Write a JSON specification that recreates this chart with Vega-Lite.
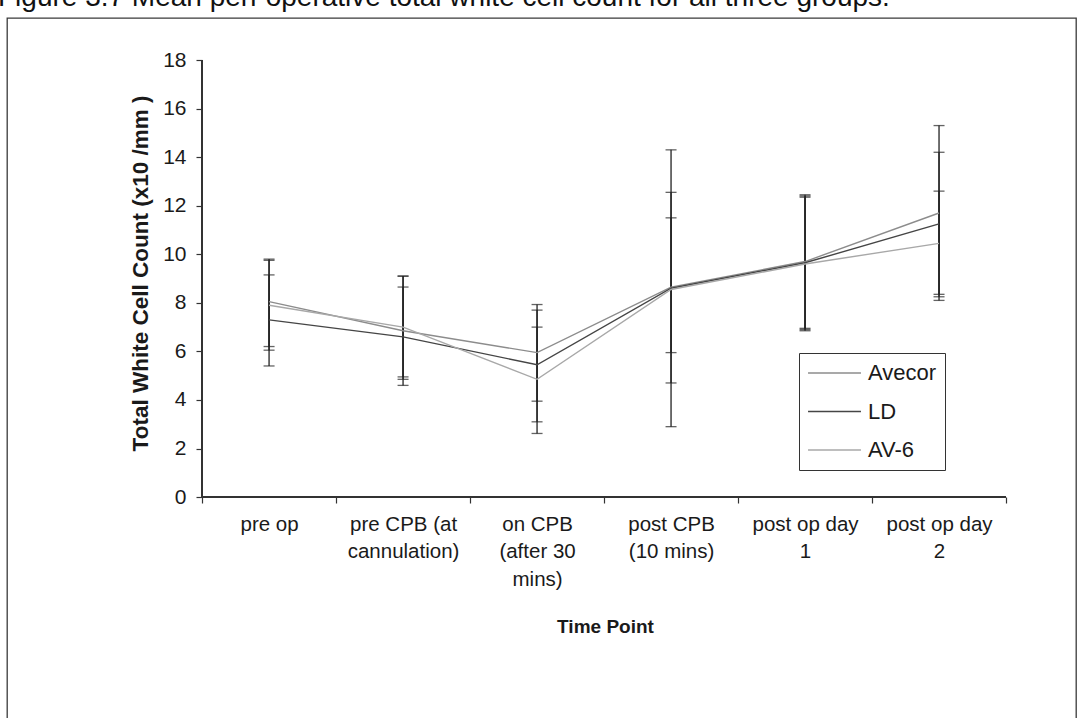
{
  "$schema": "https://vega.github.io/schema/vega-lite/v6.json",
  "autosize": "none",
  "width": 1069,
  "height": 702,
  "padding": {"left": 7, "top": 18, "right": 8, "bottom": 0},
  "background": "white",
  "title": {
    "text": "Figure 3.7  Mean peri-operative total white cell count for all three groups.",
    "anchor": "start",
    "frame": "group",
    "font": "Liberation Sans",
    "fontSize": 28,
    "fontWeight": "normal",
    "color": "#111111",
    "offset": 12,
    "dx": -9,
    "dy": 6
  },
  "config": {
    "view": {"stroke": "#3a3a3a", "strokeWidth": 1.3},
    "font": "Liberation Sans"
  },
  "data": {
    "values": [
      {"time": "pre op", "group": "Avecor", "mean": 8.05, "lo": 6.2, "hi": 9.8},
      {"time": "pre op", "group": "LD", "mean": 7.3, "lo": 5.4, "hi": 9.15},
      {"time": "pre op", "group": "AV-6", "mean": 7.9, "lo": 6.05, "hi": 9.75},
      {"time": "pre CPB (at cannulation)", "group": "Avecor", "mean": 6.85, "lo": 4.6, "hi": 9.1},
      {"time": "pre CPB (at cannulation)", "group": "LD", "mean": 6.6, "lo": 4.95, "hi": 8.65},
      {"time": "pre CPB (at cannulation)", "group": "AV-6", "mean": 7.0, "lo": 4.85, "hi": 9.1},
      {"time": "on CPB (after 30 mins)", "group": "Avecor", "mean": 5.95, "lo": 3.95, "hi": 7.93},
      {"time": "on CPB (after 30 mins)", "group": "LD", "mean": 5.45, "lo": 3.1, "hi": 7.7},
      {"time": "on CPB (after 30 mins)", "group": "AV-6", "mean": 4.85, "lo": 2.62, "hi": 7.0},
      {"time": "post CPB (10 mins)", "group": "Avecor", "mean": 8.65, "lo": 5.95, "hi": 11.5},
      {"time": "post CPB (10 mins)", "group": "LD", "mean": 8.6, "lo": 4.7, "hi": 12.55},
      {"time": "post CPB (10 mins)", "group": "AV-6", "mean": 8.55, "lo": 2.9, "hi": 14.3},
      {"time": "post op day 1", "group": "Avecor", "mean": 9.7, "lo": 6.9, "hi": 12.45},
      {"time": "post op day 1", "group": "LD", "mean": 9.65, "lo": 6.85, "hi": 12.4},
      {"time": "post op day 1", "group": "AV-6", "mean": 9.6, "lo": 6.95, "hi": 12.35},
      {"time": "post op day 2", "group": "Avecor", "mean": 11.7, "lo": 8.1, "hi": 15.3},
      {"time": "post op day 2", "group": "LD", "mean": 11.25, "lo": 8.25, "hi": 14.2},
      {"time": "post op day 2", "group": "AV-6", "mean": 10.45, "lo": 8.35, "hi": 12.6}
    ]
  },
  "encoding": {
    "x": {
      "field": "time",
      "type": "nominal",
      "bandPosition": 0.5,
      "sort": ["pre op", "pre CPB (at cannulation)", "on CPB (after 30 mins)", "post CPB (10 mins)", "post op day 1", "post op day 2"],
      "scale": {
        "type": "band",
        "domain": ["pre op", "pre CPB (at cannulation)", "on CPB (after 30 mins)", "post CPB (10 mins)", "post op day 1", "post op day 2"],
        "paddingInner": 0,
        "paddingOuter": 0.989,
        "align": 0.736
      },
      "axis": {
        "title": "Time Point",
        "orient": "bottom",
        "offset": -223,
        "domain": false,
        "grid": false,
        "tickBand": "extent",
        "tickSize": 6,
        "tickWidth": 1.2,
        "tickColor": "#333333",
        "labelAngle": 0,
        "labelFont": "Liberation Sans",
        "labelFontSize": 20.5,
        "labelColor": "#1a1a1a",
        "labelLineHeight": 27.5,
        "labelPadding": 11,
        "labelOverlap": false,
        "labelExpr": "datum.value == 'pre CPB (at cannulation)' ? ['pre CPB (at', 'cannulation)'] : datum.value == 'on CPB (after 30 mins)' ? ['on CPB', '(after 30', 'mins)'] : datum.value == 'post CPB (10 mins)' ? ['post CPB', '(10 mins)'] : datum.value == 'post op day 1' ? ['post op day', '1'] : datum.value == 'post op day 2' ? ['post op day', '2'] : datum.label",
        "titleFontSize": 19,
        "titleFontWeight": "bold",
        "titleColor": "#1a1a1a",
        "titlePadding": 28,
        "titleX": 598
      }
    },
    "y": {
      "field": "mean",
      "type": "quantitative",
      "scale": {"domain": [-9.18, 19.73], "nice": false, "zero": false},
      "axis": {
        "title": "Total White Cell Count (x10 /mm )",
        "orient": "left",
        "offset": -195,
        "domain": false,
        "grid": false,
        "values": [0, 2, 4, 6, 8, 10, 12, 14, 16, 18],
        "tickSize": 6,
        "tickWidth": 1.2,
        "tickColor": "#333333",
        "labelFontSize": 21,
        "labelColor": "#1a1a1a",
        "labelPadding": 10,
        "titleFontSize": 22.5,
        "titleFontWeight": "bold",
        "titleColor": "#1a1a1a",
        "titlePadding": 10,
        "titleY": 255
      }
    }
  },
  "layer": [
    {
      "mark": {"type": "rule", "color": "#333333", "strokeWidth": 1.3},
      "encoding": {
        "x": {"datum": "pre op", "bandPosition": 0},
        "y": {"datum": 0},
        "y2": {"datum": 18}
      }
    },
    {
      "mark": {"type": "rule", "color": "#333333", "strokeWidth": 1.3},
      "encoding": {
        "x": {"datum": "pre op", "bandPosition": 0},
        "x2": {"datum": "post op day 2", "bandPosition": 1},
        "y": {"datum": 0}
      }
    },
    {
      "mark": {"type": "rule", "color": "#222222", "strokeWidth": 1.3},
      "encoding": {
        "y": {"field": "lo", "type": "quantitative"},
        "y2": {"field": "hi"}
      }
    },
    {
      "transform": [{"fold": ["lo", "hi"], "as": ["end", "cap"]}],
      "mark": {"type": "tick", "size": 11, "thickness": 1.3, "color": "#222222"},
      "encoding": {
        "y": {"field": "cap", "type": "quantitative"}
      }
    },
    {
      "mark": {"type": "line", "strokeWidth": 1.4},
      "encoding": {
        "color": {
          "field": "group",
          "type": "nominal",
          "scale": {"domain": ["Avecor", "LD", "AV-6"], "range": ["#8c8c8c", "#454545", "#a8a8a8"]},
          "legend": {
            "orient": "none",
            "legendX": 792,
            "legendY": 335,
            "title": null,
            "symbolType": "stroke",
            "symbolSize": 2800,
            "symbolStrokeWidth": 1.4,
            "clipHeight": 24,
            "rowPadding": 14.5,
            "padding": 8,
            "labelOffset": 6,
            "labelFontSize": 22,
            "labelColor": "#1a1a1a",
            "strokeColor": "#333333",
            "fillColor": "white"
          }
        }
      }
    }
  ]
}
